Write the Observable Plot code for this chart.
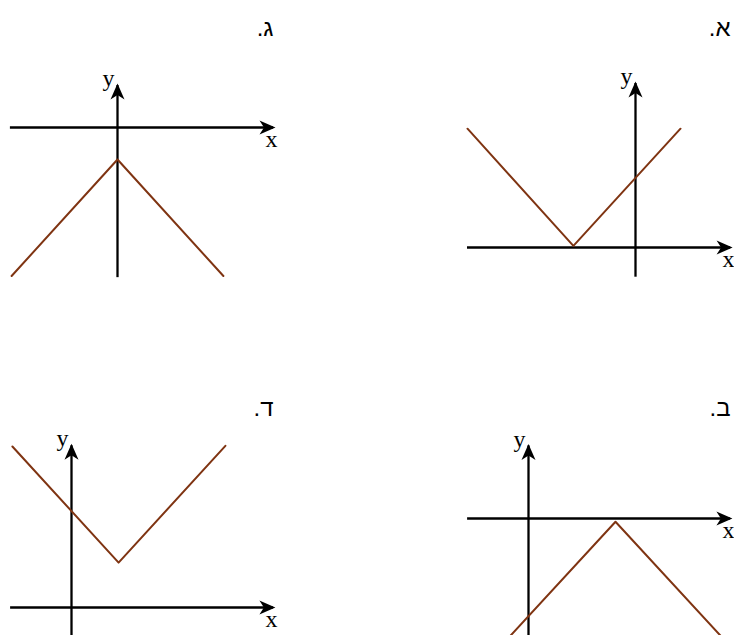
<!DOCTYPE html>
<html>
<head>
<meta charset="utf-8">
<script src="https://cdn.jsdelivr.net/npm/d3@7"></script>
<script src="https://cdn.jsdelivr.net/npm/@observablehq/plot@0.6"></script>
<style>
  html, body { margin: 0; padding: 0; background: #fff; }
  #chart { position: relative; width: 734px; height: 635px; background: #fff; overflow: hidden; }
  #chart svg { position: absolute; }
</style>
</head>
<body>
<div id="chart"></div>
<script>
// ---- data (math units) ----
const panelLabels = ["א.", "ב.", "ג.", "ד."];

// graph א
const aX = [-5.6, -2.07, 1.5];
const aY = [3.6, 0.05, 3.6];
const aAxisX = [-5.6, 3.17];
const aAxisY = [-0.9, 4.97];

// graph ב
const bX = [-0.6, 2.9, 6.4];
const bY = [-3.55, -0.1, -3.55];
const bAxisX = [-2.03, 6.73];
const bAxisY = [-3.6, 2.2];

// graph ג
const cX = [-3.53, 0, 3.53];
const cY = [-4.5, -0.97, -4.5];
const cAxisX = [-3.57, 5.2];
const cAxisY = [-4.55, 1.27];

// graph ד
const dX = [-1.97, 1.57, 5.13];
const dY = [4.88, 1.36, 4.9];
const dAxisX = [-2.03, 6.73];
const dAxisY = [-0.9, 4.9];

// ---- layout (pixels) ----
const unitX = 30, unitY = 33;
const panels = [
  {label: panelLabels[0], X: aX, Y: aY, ax: aAxisX, ay: aAxisY, left: 440, top: 0,   w: 294, h: 300, ox: 195, oy: 247, ldx: -4,  ldy: 18},
  {label: panelLabels[1], X: bX, Y: bY, ax: bAxisX, ay: bAxisY, left: 440, top: 380, w: 294, h: 255, ox: 88,  oy: 138, ldx: -4,  ldy: 18},
  {label: panelLabels[2], X: cX, Y: cY, ax: cAxisX, ay: cAxisY, left: 0,   top: 0,   w: 300, h: 300, ox: 117, oy: 127, ldx: -27, ldy: 18},
  {label: panelLabels[3], X: dX, Y: dY, ax: dAxisX, ay: dAxisY, left: 0,   top: 380, w: 300, h: 255, ox: 71,  oy: 227, ldx: -27, ldy: 18}
];

// filled, notched arrowhead pointing up, tip slightly beyond the anchor
const arrowHead = {
  draw(ctx) {
    const L = 16, W = 7, N = 4.5, o = 2;
    ctx.moveTo(0, -o);
    ctx.lineTo(W, L - o);
    ctx.lineTo(0, L - o - N);
    ctx.lineTo(-W, L - o);
    ctx.closePath();
  }
};

const brown = "#7f3412";
const chart = document.getElementById("chart");
const serif = "Liberation Serif, DejaVu Serif, serif";

for (const p of panels) {
  const pts = p.X.map((x, i) => ({x, y: p.Y[i]}));
  const svg = Plot.plot({
    width: p.w,
    height: p.h,
    margin: 0,
    x: {domain: [-p.ox / unitX, (p.w - p.ox) / unitX], axis: null},
    y: {domain: [(p.oy - p.h) / unitY, p.oy / unitY], axis: null},
    style: {background: "transparent", overflow: "visible"},
    marks: [
      Plot.ruleY([0], {x1: p.ax[0], x2: p.ax[1], stroke: "black", strokeWidth: 2.3}),
      Plot.ruleX([0], {y1: p.ay[0], y2: p.ay[1], stroke: "black", strokeWidth: 2.3}),
      Plot.line(pts, {x: "x", y: "y", stroke: brown, strokeWidth: 2}),
      Plot.dot([{x: p.ax[1], y: 0}], {x: "x", y: "y", symbol: arrowHead, rotate: 90, fill: "black", stroke: "none"}),
      Plot.dot([{x: 0, y: p.ay[1]}], {x: "x", y: "y", symbol: arrowHead, fill: "black", stroke: "none"}),
      Plot.text([{x: 0, y: p.ay[1], t: "y"}], {x: "x", y: "y", text: "t", textAnchor: "end", dx: -3, dy: -7,
        fontSize: 24, fontFamily: serif, fill: "black"}),
      Plot.text([{x: p.ax[1], y: 0, t: "x"}], {x: "x", y: "y", text: "t", textAnchor: "middle", dx: -2, dy: 12,
        fontSize: 24, fontFamily: serif, fill: "black"}),
      Plot.text([p.label + "\u200F"], {text: d => d, frameAnchor: "top-right", textAnchor: "end",
        dx: p.ldx, dy: p.ldy, fontSize: 24, fontFamily: "Liberation Sans, DejaVu Sans, sans-serif", fill: "black"})
    ]
  });
  svg.style.left = p.left + "px";
  svg.style.top = p.top + "px";
  chart.appendChild(svg);
}
</script>
</body>
</html>
